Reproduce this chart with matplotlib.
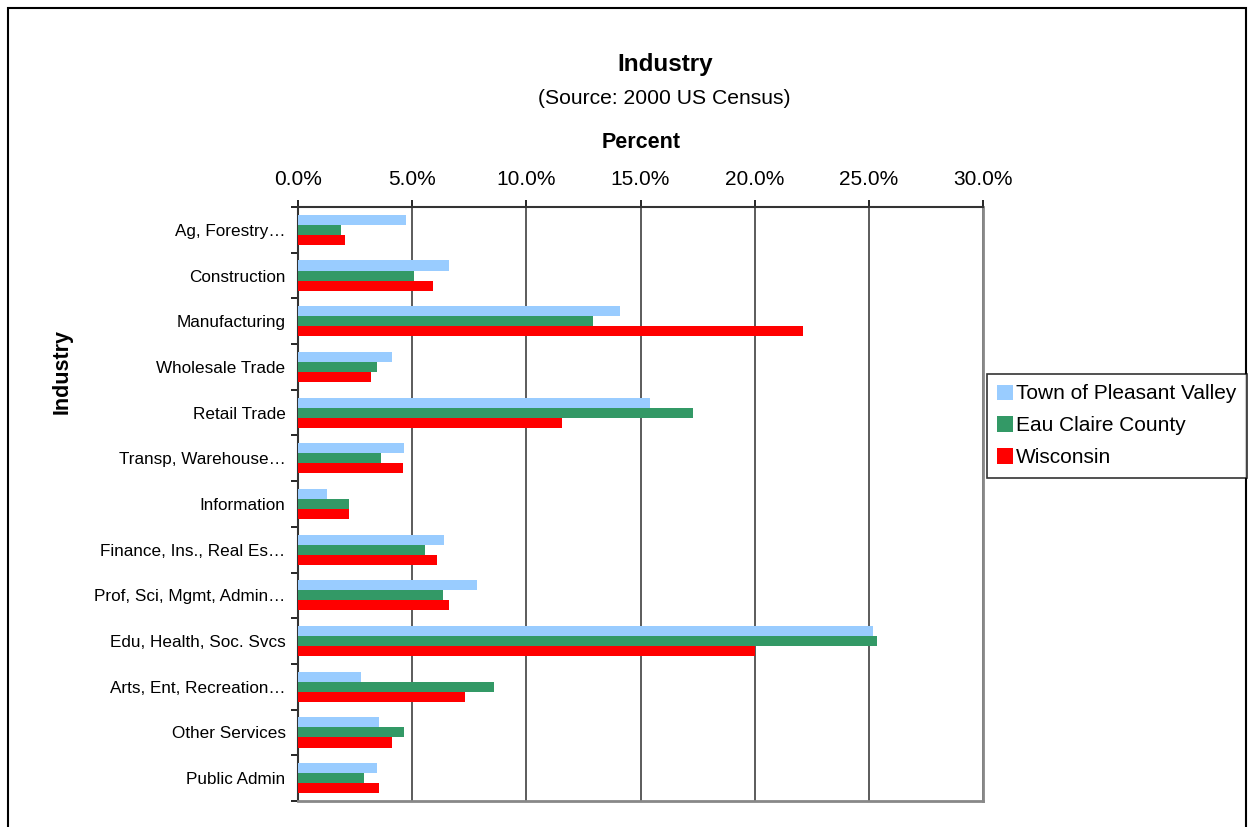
import numpy as np
import matplotlib
matplotlib.use('Agg')
from matplotlib import pyplot as plt, patches

plt.rcParams['font.family'] = ['Liberation Sans', 'DejaVu Sans']

# Data (percent of employed persons by industry, 2000 US Census)
industries = [
    'Ag, Forestry\u2026', 'Construction', 'Manufacturing', 'Wholesale Trade',
    'Retail Trade', 'Transp, Warehouse\u2026', 'Information',
    'Finance, Ins., Real Es\u2026', 'Prof, Sci, Mgmt, Admin\u2026',
    'Edu, Health, Soc. Svcs', 'Arts, Ent, Recreation\u2026',
    'Other Services', 'Public Admin',
]
pleasant_valley = [4.75, 6.6, 14.1, 4.1, 15.4, 4.65, 1.25, 6.4, 7.85, 25.2, 2.75, 3.55, 3.45]
eau_claire = [1.9, 5.1, 12.9, 3.45, 17.3, 3.65, 2.25, 5.55, 6.35, 25.35, 8.6, 4.65, 2.9]
wisconsin = [2.05, 5.9, 22.1, 3.2, 11.55, 4.6, 2.25, 6.1, 6.6, 20.0, 7.3, 4.1, 3.55]

series = [
    ('Town of Pleasant Valley', pleasant_valley, '#99ccff'),
    ('Eau Claire County', eau_claire, '#339966'),
    ('Wisconsin', wisconsin, '#ff0000'),
]

x_ticks = [0, 5, 10, 15, 20, 25, 30]

# %%
fig = plt.figure(figsize=(12.49, 8.27), dpi=100)

# outer chart border
fig.patches.append(patches.Rectangle(
    (8 / 1249, -0.05), 1238 / 1249, 1.05 - 8 / 827,
    transform=fig.transFigure, fill=False, edgecolor='black', linewidth=1.5
))

ax = fig.add_axes([298 / 1249, 1 - 801 / 827, 685 / 1249, 594 / 827])

pos = np.arange(len(industries))
bar_h = 0.22
for i, (name, values, color) in enumerate(series):
    ax.barh(pos + (i - 1) * bar_h, values, height=bar_h, color=color,
            label=name, zorder=3)

ax.set_xlim(0, 30)
ax.set_ylim(len(industries) - 0.5, -0.5)

ax.xaxis.tick_top()
ax.set_xticks(x_ticks)
ax.set_xticklabels([f'{t:.1f}%' for t in x_ticks], fontsize=15)
ax.tick_params(axis='x', direction='out', length=5, width=1.2, pad=8)
ax.grid(axis='x', color='#404040', linewidth=1.2, zorder=0)

ax.set_yticks(pos)
ax.set_yticklabels(industries, fontsize=12.3)
ax.set_yticks(np.arange(len(industries) + 1) - 0.5, minor=True)
ax.tick_params(axis='y', which='major', length=0, pad=9)
ax.tick_params(axis='y', which='minor', direction='out', length=5, width=1.2)

for side in ('left', 'top'):
    ax.spines[side].set_color('#333333')
    ax.spines[side].set_linewidth(1.5)
for side in ('right', 'bottom'):
    ax.spines[side].set_color('#888888')
    ax.spines[side].set_linewidth(2)

# titles
fig.text(665 / 1249, 1 - 64 / 827, 'Industry', ha='center', va='center',
         fontsize=17.5, fontweight='bold')
fig.text(664 / 1249, 1 - 99 / 827, '(Source: 2000 US Census)', ha='center',
         va='center', fontsize=15.2)
fig.text(641 / 1249, 1 - 142 / 827, 'Percent', ha='center', va='center',
         fontsize=15.5, fontweight='bold')
fig.text(62 / 1249, 1 - 372 / 827, 'Industry', ha='center', va='center',
         fontsize=15.5, fontweight='bold', rotation=90)

leg = fig.legend(loc='upper left', bbox_to_anchor=(987 / 1249, 1 - 374 / 827),
                 fontsize=15, frameon=True, fancybox=False,
                 handlelength=0.75, handleheight=0.75, handletextpad=0.15,
                 borderpad=0.5, labelspacing=0.62, borderaxespad=0)
leg.get_frame().set_edgecolor('black')
leg.get_frame().set_linewidth(1.2)

plt.savefig('out.png', dpi=100)
